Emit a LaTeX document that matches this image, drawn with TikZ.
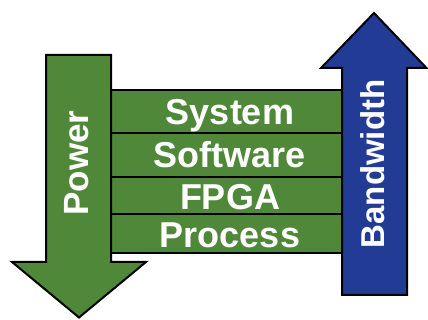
\documentclass[tikz,border=0pt]{standalone}
\usepackage{fontspec}
\setmainfont{Liberation Sans}
\definecolor{pgreen}{RGB}{80,136,58}
\definecolor{bblue}{RGB}{34,60,150}
\tikzset{
  arrowshape/.style={draw=black,line width=2pt,line join=miter},
  bar/.style={fill=pgreen,draw=black,line width=1.8pt},
  lbl/.style={text=white,font=\bfseries\fontsize{36}{36}\selectfont,inner sep=0pt},
}
\begin{document}
\begin{tikzpicture}[x=1pt,y=1pt]
\useasboundingbox (0,0) rectangle (428,320);
% bars
\draw[bar] (111,230) rectangle (342,187);
\draw[bar] (111,187) rectangle (342,143);
\draw[bar] (111,143) rectangle (342,106);
\draw[bar] (111,106) rectangle (342,67);
\node[lbl,anchor=base] (sys) at (230,195) {System};
\node[lbl,anchor=base] (sw) at (230,152) {Software};
\node[lbl,anchor=base] (fpga) at (230,110) {FPGA};
\node[lbl,anchor=base] (proc) at (230,72) {Process};
% power arrow
\draw[arrowshape,fill=pgreen] (46,265) -- (111,265) -- (111,58) -- (146,58) -- (79,2.5) -- (12,58) -- (46,58) -- cycle;
\node[lbl,rotate=90,font=\bfseries\fontsize{35}{35}\selectfont] (pow) at (77,157) {Power};
% bandwidth arrow
\draw[arrowshape,fill=bblue] (342,25) -- (407,25) -- (407,252) -- (426.5,252) -- (374,307) -- (321,252) -- (342,252) -- cycle;
\node[lbl,rotate=90,font=\bfseries\fontsize{33}{33}\selectfont] (bw) at (373,156) {Bandwidth};
\end{tikzpicture}
\end{document}
